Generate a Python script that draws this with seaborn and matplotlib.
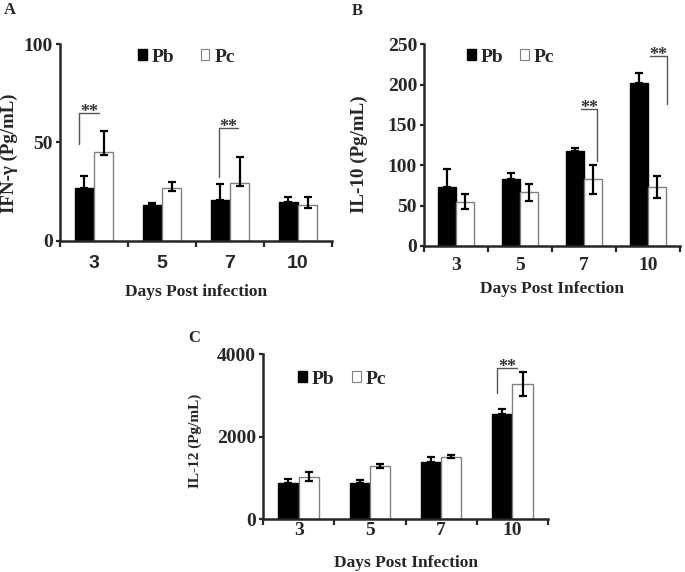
import numpy as np
import pandas as pd
import matplotlib
matplotlib.use("Agg")
import matplotlib.pyplot as plt
import seaborn as sns
from matplotlib.patches import Patch

# ---------------- data ----------------
days = ["3", "5", "7", "10"]
groups = ["Pb", "Pc"]

ifn_pb = [27.0, 18.0, 20.7, 19.5]
ifn_pb_up = [6.0, 1.2, 8.0, 2.5]
ifn_pc = [45.0, 26.8, 29.2, 18.0]
ifn_pc_up = [10.8, 2.9, 13.6, 4.0]
ifn_pc_lo = [1.5, 1.5, 1.2, 1.5]

il10_pb = [73.5, 83.0, 118.0, 202.0]
il10_pb_up = [21.5, 8.0, 4.0, 12.0]
il10_pc = [55.0, 66.6, 83.0, 73.0]
il10_pc_err = [9.0, 10.8, 18.0, 13.8]

il12_pb = [867, 874, 1385, 2543]
il12_pb_up = [105, 73, 129, 121]
il12_pc = [1028, 1280, 1514, 3271]
il12_pc_err = [105, 50, 40, 290]

# ---------------- style ----------------
sns.set_style("ticks")
plt.rcParams["font.family"] = ["Liberation Serif", "DejaVu Serif"]
plt.rcParams["font.weight"] = "bold"
plt.rcParams["axes.labelweight"] = "bold"

SERIF = ["Liberation Serif", "DejaVu Serif"]
SANS = ["Liberation Sans", "DejaVu Sans"]
GRAY = "#808080"

fig = plt.figure(figsize=(6.85, 5.72), dpi=100)
W, H = 685.0, 572.0


def axes_px(left, top, right, bottom):
    return fig.add_axes([left / W, 1 - bottom / H, (right - left) / W, (bottom - top) / H])


def panel(ax, pb, pc, pb_err, pc_err, ylim, yticks, ylabel, xlabel,
          xtick_family, legend_anchor, xtickpad, xlabelpad, ylab_coords,
          ylab_size, colspace):
    df = pd.DataFrame({
        "day": days * 2,
        "group": ["Pb"] * 4 + ["Pc"] * 4,
        "value": list(pb) + list(pc),
    })
    sns.barplot(data=df, x="day", y="value", hue="group", order=days,
                hue_order=groups, palette={"Pb": "black", "Pc": "white"},
                width=0.57, errorbar=None, legend=False, ax=ax,
                edgecolor=GRAY, linewidth=1.0)
    for p in ax.containers[0]:
        p.set_edgecolor("black")
    # error bars
    for cont, vals, err in zip(ax.containers, [pb, pc], [pb_err, pc_err]):
        xs = [p.get_x() + p.get_width() / 2 for p in cont]
        ax.errorbar(xs, vals, yerr=[err[0], err[1]], fmt="none", ecolor="black",
                    elinewidth=1.6, capsize=3, capthick=1.6, zorder=5)
    ax.set_xlim(-0.5, 3.5)
    ax.set_ylim(*ylim)
    ax.set_yticks(yticks)
    ax.set_yticklabels([str(t) for t in yticks], fontsize=14, fontweight="bold",
                       family=SERIF)
    # separators as major ticks, labels on minor ticks
    ax.set_xticks([-0.5, 0.5, 1.5, 2.5, 3.5])
    ax.set_xticklabels([])
    ax.set_xticks(range(4), minor=True)
    ax.set_xticklabels(days, minor=True, fontsize=14, fontweight="bold",
                       family=xtick_family)
    ax.tick_params(axis="x", which="minor", length=0, pad=xtickpad)
    ax.tick_params(axis="x", which="major", length=4, width=1.6, direction="out")
    ax.tick_params(axis="y", which="major", length=3, width=1.6, direction="out", pad=2)
    ax.set_ylabel(ylabel, fontsize=ylab_size, fontweight="bold", family=SERIF)
    ax.yaxis.set_label_coords(*ylab_coords)
    ax.set_xlabel(xlabel, fontsize=12.5, fontweight="bold", family=SERIF,
                  labelpad=xlabelpad)
    sns.despine(ax=ax)
    for s in ["left", "bottom"]:
        ax.spines[s].set_linewidth(1.8)
    handles = [Patch(facecolor="black", edgecolor="black", label="Pb"),
               Patch(facecolor="white", edgecolor=GRAY, linewidth=0.8, label="Pc")]
    ax.legend(handles=handles, ncol=2, frameon=False, loc="center left",
              bbox_to_anchor=legend_anchor, borderaxespad=0, borderpad=0,
              handlelength=0.45, handleheight=0.45, handletextpad=0.25,
              columnspacing=colspace,
              prop={"family": SERIF, "weight": "bold", "size": 14})


def sig(ax, x_vert, x_other, y_low, y_top, fs=13):
    ax.plot([x_vert, x_vert], [y_low, y_top], color="#555555", lw=1.0, zorder=6)
    ax.plot([x_vert, x_other], [y_top, y_top], color="#555555", lw=1.0, zorder=6)
    ax.annotate("**", ((x_vert + x_other) / 2, y_top), xytext=(0, -3),
                textcoords="offset points", ha="center", va="baseline",
                fontsize=fs, fontweight="bold", color="#333333", family=SERIF)


# Panel A
axA = axes_px(60, 44.3, 332, 240.7)
panel(axA, ifn_pb, ifn_pc, ([0] * 4, ifn_pb_up), (ifn_pc_lo, ifn_pc_up),
      (0, 100), [0, 50, 100], "IFN-γ (Pg/mL)", "Days Post infection", SANS,
      (0.287, 0.935), 10, 9, (-0.154, 0.447), 13.6, 1.35)
sig(axA, -0.22, 0.08, 49, 65)
sig(axA, 1.84, 2.12, 32.6, 57.5)

# Panel B
axB = axes_px(424, 44.3, 680, 246)
panel(axB, il10_pb, il10_pc, ([0] * 4, il10_pb_up), (il10_pc_err, il10_pc_err),
      (0, 250), [0, 50, 100, 150, 200, 250], "IL-10 (Pg/mL)", "Days Post Infection",
      SERIF, (0.167, 0.937), 8, 5, (-0.219, 0.456), 13.7, 0.9)
sig(axB, 2.2, 1.95, 105, 170)
sig(axB, 3.29, 3.03, 176, 236)

# Panel C
axC = axes_px(263, 354.3, 548, 519)
panel(axC, il12_pb, il12_pc, ([0] * 4, il12_pb_up), (il12_pc_err, il12_pc_err),
      (0, 4000), [0, 2000, 4000], "IL-12 (Pg/mL)", "Days Post Infection",
      SERIF, (0.123, 0.85), 2, 12, (-0.214, 0.474), 11, 0.9)
sig(axC, 2.79, 3.07, 3053, 3675)

# panel letters
fig.text(4 / W, 1 - 10 / H, "A", fontsize=12, fontweight="bold", family=SERIF,
         ha="left", va="center")
fig.text(352 / W, 1 - 11 / H, "B", fontsize=12, fontweight="bold", family=SERIF,
         ha="left", va="center")
fig.text(188 / W, 1 - 338 / H, "C", fontsize=12, fontweight="bold", family=SERIF,
         ha="left", va="center")

fig.savefig("out.png", dpi=100, facecolor="white")
